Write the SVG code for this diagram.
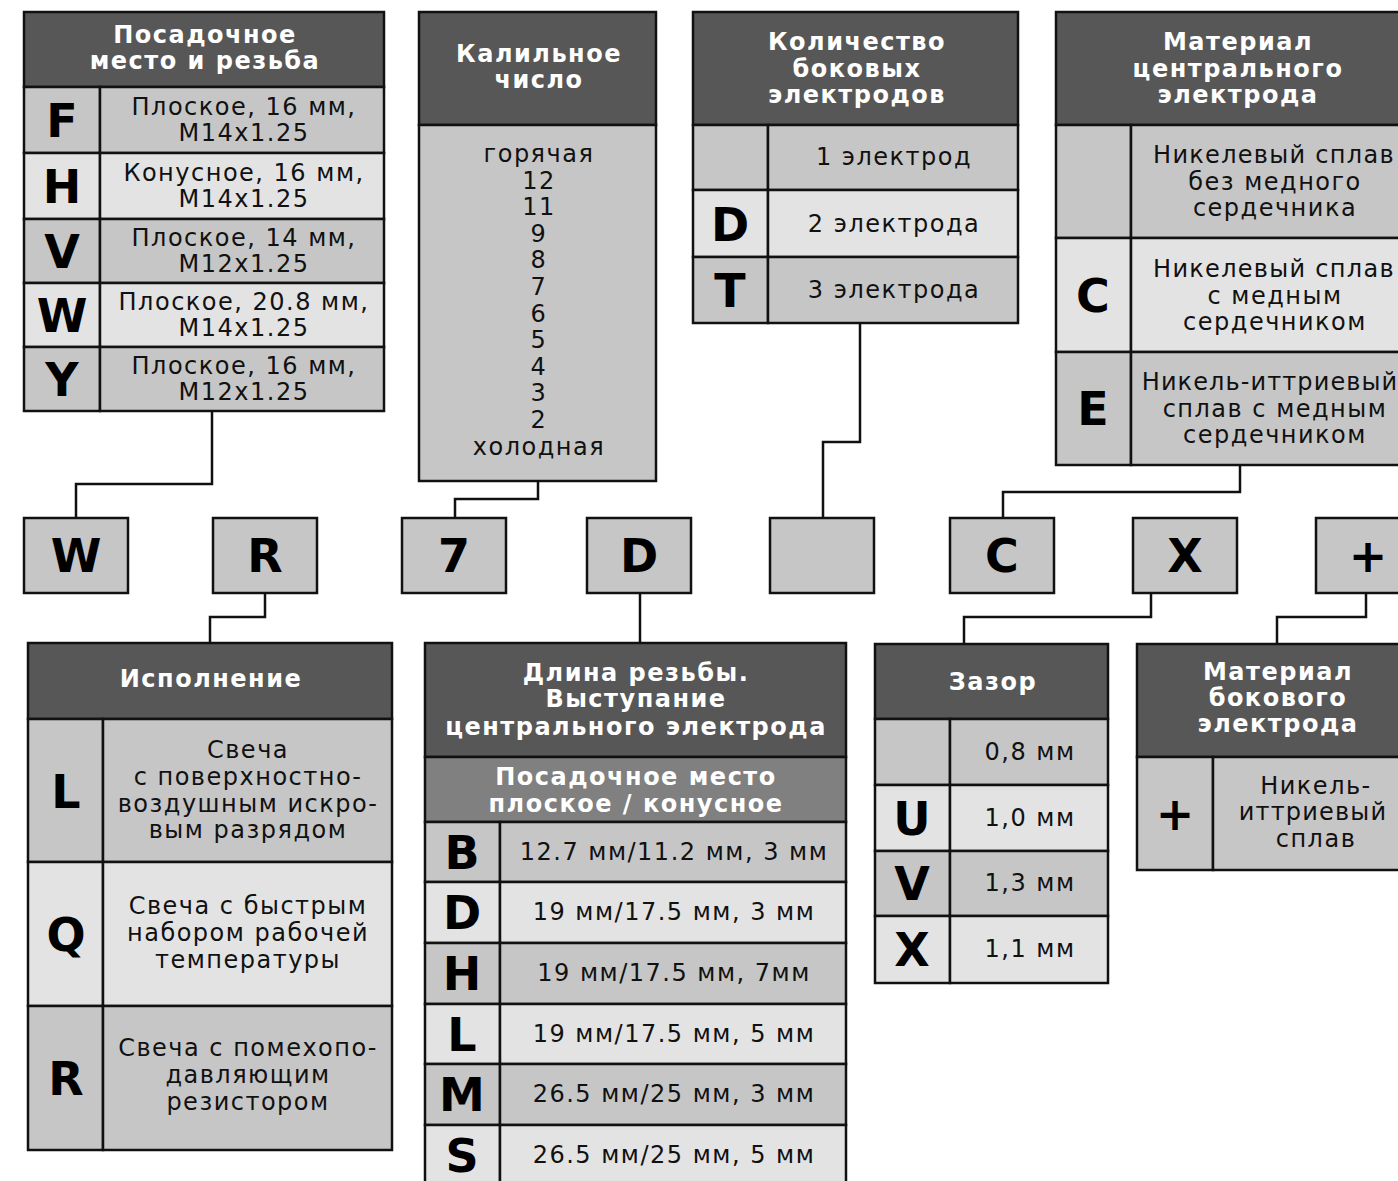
<svg xmlns="http://www.w3.org/2000/svg" width="1398" height="1181" viewBox="0 0 1398 1181">
<style>
rect{stroke:#111;stroke-width:2.5}
.h{fill:#575757}.s{fill:#808080}.d{fill:#c6c6c6}.l{fill:#e3e3e3}
text{font-family:"DejaVu Sans",Verdana,sans-serif;text-anchor:middle}
.ht{font-size:24px;font-weight:bold;fill:#fff;letter-spacing:1.5px}
.bt{font-size:24px;fill:#111;letter-spacing:1.5px}
.lt{font-size:46px;font-weight:bold;fill:#000}
#connectors path{fill:none;stroke:#111;stroke-width:2.5}
</style>
<rect width="1398" height="1181" fill="#fff" style="stroke:none"/>
<g id="connectors">
<path d="M212,411 V484 H76 V518"/>
<path d="M538,481 V499 H455 V518"/>
<path d="M860,323 V442 H823 V518"/>
<path d="M1240,465 V492 H1003 V518"/>
<path d="M265,593 V617 H210 V643"/>
<path d="M640,593 V643"/>
<path d="M1151,593 V617 H964 V644"/>
<path d="M1366,593 V617 H1277 V644"/>
</g>
<g id="t-thread">
<rect class="h" x="24" y="12" width="360" height="75"/>
<text class="ht" x="205" y="43">Посадочное</text>
<text class="ht" x="205" y="69">место и резьба</text>
<rect class="d" x="24" y="87" width="76" height="66"/><rect class="d" x="100" y="87" width="284" height="66"/>
<rect class="l" x="24" y="153" width="76" height="66"/><rect class="l" x="100" y="153" width="284" height="66"/>
<rect class="d" x="24" y="219" width="76" height="64"/><rect class="d" x="100" y="219" width="284" height="64"/>
<rect class="l" x="24" y="283" width="76" height="64"/><rect class="l" x="100" y="283" width="284" height="64"/>
<rect class="d" x="24" y="347" width="76" height="64"/><rect class="d" x="100" y="347" width="284" height="64"/>
<text class="lt" x="62" y="137">F</text>
<text class="lt" x="62" y="203">H</text>
<text class="lt" x="62" y="268">V</text>
<text class="lt" x="62" y="332">W</text>
<text class="lt" x="62" y="396">Y</text>
<text class="bt" x="244" y="115">Плоское, 16 мм,</text><text class="bt" x="244" y="141">M14x1.25</text>
<text class="bt" x="244" y="181">Конусное, 16 мм,</text><text class="bt" x="244" y="207">M14x1.25</text>
<text class="bt" x="244" y="246">Плоское, 14 мм,</text><text class="bt" x="244" y="272">M12x1.25</text>
<text class="bt" x="244" y="310">Плоское, 20.8 мм,</text><text class="bt" x="244" y="336">M14x1.25</text>
<text class="bt" x="244" y="374">Плоское, 16 мм,</text><text class="bt" x="244" y="400">M12x1.25</text>
</g>
<g id="t-heat">
<rect class="h" x="419" y="12" width="237" height="113"/>
<text class="ht" x="539" y="62">Калильное</text>
<text class="ht" x="539" y="88">число</text>
<rect class="d" x="419" y="125" width="237" height="356"/>
<text class="bt" x="539" y="162">горячая</text>
<text class="bt" x="539" y="188.6">12</text>
<text class="bt" x="539" y="215.2">11</text>
<text class="bt" x="539" y="241.8">9</text>
<text class="bt" x="539" y="268.4">8</text>
<text class="bt" x="539" y="295">7</text>
<text class="bt" x="539" y="321.6">6</text>
<text class="bt" x="539" y="348.2">5</text>
<text class="bt" x="539" y="374.8">4</text>
<text class="bt" x="539" y="401.4">3</text>
<text class="bt" x="539" y="428">2</text>
<text class="bt" x="539" y="454.6">холодная</text>
</g>
<g id="t-electrodes">
<rect class="h" x="693" y="12" width="325" height="113"/>
<text class="ht" x="857" y="50">Количество</text>
<text class="ht" x="857" y="77">боковых</text>
<text class="ht" x="857" y="103">электродов</text>
<rect class="d" x="693" y="125" width="75" height="65"/><rect class="d" x="768" y="125" width="250" height="65"/>
<rect class="l" x="693" y="190" width="75" height="67"/><rect class="l" x="768" y="190" width="250" height="67"/>
<rect class="d" x="693" y="257" width="75" height="66"/><rect class="d" x="768" y="257" width="250" height="66"/>
<text class="lt" x="730" y="241">D</text>
<text class="lt" x="730" y="307">T</text>
<text class="bt" x="894" y="165">1 электрод</text>
<text class="bt" x="894" y="232">2 электрода</text>
<text class="bt" x="894" y="298">3 электрода</text>
</g>
<g id="t-center">
<rect class="h" x="1056" y="12" width="362" height="113"/>
<text class="ht" x="1238" y="50">Материал</text>
<text class="ht" x="1238" y="77">центрального</text>
<text class="ht" x="1238" y="103">электрода</text>
<rect class="d" x="1056" y="125" width="75" height="113"/><rect class="d" x="1131" y="125" width="287" height="113"/>
<rect class="l" x="1056" y="238" width="75" height="114"/><rect class="l" x="1131" y="238" width="287" height="114"/>
<rect class="d" x="1056" y="352" width="75" height="113"/><rect class="d" x="1131" y="352" width="287" height="113"/>
<text class="lt" x="1093" y="312">C</text>
<text class="lt" x="1093" y="425">E</text>
<text class="bt" x="1274" y="163" style="letter-spacing:1.3px">Никелевый сплав</text><text class="bt" x="1275" y="190">без медного</text><text class="bt" x="1275" y="216">сердечника</text>
<text class="bt" x="1274" y="277" style="letter-spacing:1.3px">Никелевый сплав</text><text class="bt" x="1275" y="304">с медным</text><text class="bt" x="1275" y="330">сердечником</text>
<text class="bt" x="1270" y="390" style="letter-spacing:1.1px">Никель-иттриевый</text><text class="bt" x="1275" y="417">сплав с медным</text><text class="bt" x="1275" y="443">сердечником</text>
</g>
<g id="code">
<g id="b-W"><rect class="d" x="24" y="518" width="104" height="75"/><text class="lt" x="76" y="572">W</text></g>
<g id="b-R"><rect class="d" x="213" y="518" width="104" height="75"/><text class="lt" x="265" y="572">R</text></g>
<g id="b-7"><rect class="d" x="402" y="518" width="104" height="75"/><text class="lt" x="454" y="572">7</text></g>
<g id="b-D"><rect class="d" x="587" y="518" width="104" height="75"/><text class="lt" x="639" y="572">D</text></g>
<g id="b-empty"><rect class="d" x="770" y="518" width="104" height="75"/></g>
<g id="b-C"><rect class="d" x="950" y="518" width="104" height="75"/><text class="lt" x="1002" y="572">C</text></g>
<g id="b-X"><rect class="d" x="1133" y="518" width="104" height="75"/><text class="lt" x="1185" y="572">X</text></g>
<g id="b-plus"><rect class="d" x="1316" y="518" width="104" height="75"/><text class="lt" x="1368" y="572">+</text></g>
</g>
<g id="t-type">
<rect class="h" x="28" y="643" width="364" height="76"/>
<text class="ht" x="211" y="687">Исполнение</text>
<rect class="d" x="28" y="719" width="75" height="143"/><rect class="d" x="103" y="719" width="289" height="143"/>
<rect class="l" x="28" y="862" width="75" height="144"/><rect class="l" x="103" y="862" width="289" height="144"/>
<rect class="d" x="28" y="1006" width="75" height="144"/><rect class="d" x="103" y="1006" width="289" height="144"/>
<text class="lt" x="66" y="808">L</text>
<text class="lt" x="66" y="951">Q</text>
<text class="lt" x="66" y="1095">R</text>
<text class="bt" x="248" y="758">Свеча</text><text class="bt" x="248" y="785">с поверхностно-</text><text class="bt" x="248" y="812">воздушным искро-</text><text class="bt" x="248" y="838">вым разрядом</text>
<text class="bt" x="248" y="914">Свеча с быстрым</text><text class="bt" x="248" y="941">набором рабочей</text><text class="bt" x="248" y="968">температуры</text>
<text class="bt" x="248" y="1056">Свеча с помехопо-</text><text class="bt" x="248" y="1083">давляющим</text><text class="bt" x="248" y="1110">резистором</text>
</g>
<g id="t-length">
<rect class="h" x="425" y="643" width="421" height="114"/>
<text class="ht" x="636" y="681">Длина резьбы.</text>
<text class="ht" x="636" y="707">Выступание</text>
<text class="ht" x="636" y="735">центрального электрода</text>
<rect class="s" x="425" y="757" width="421" height="65"/>
<text class="ht" x="636" y="785">Посадочное место</text>
<text class="ht" x="636" y="812">плоское / конусное</text>
<rect class="d" x="425" y="822" width="75" height="60"/><rect class="d" x="500" y="822" width="346" height="60"/>
<rect class="l" x="425" y="882" width="75" height="61"/><rect class="l" x="500" y="882" width="346" height="61"/>
<rect class="d" x="425" y="943" width="75" height="61"/><rect class="d" x="500" y="943" width="346" height="61"/>
<rect class="l" x="425" y="1004" width="75" height="60"/><rect class="l" x="500" y="1004" width="346" height="60"/>
<rect class="d" x="425" y="1064" width="75" height="61"/><rect class="d" x="500" y="1064" width="346" height="61"/>
<rect class="l" x="425" y="1125" width="75" height="61"/><rect class="l" x="500" y="1125" width="346" height="61"/>
<text class="lt" x="462" y="869">B</text>
<text class="lt" x="462" y="929">D</text>
<text class="lt" x="462" y="990">H</text>
<text class="lt" x="462" y="1051">L</text>
<text class="lt" x="462" y="1111">M</text>
<text class="lt" x="462" y="1172">S</text>
<text class="bt" x="674" y="860">12.7 мм/11.2 мм, 3 мм</text>
<text class="bt" x="674" y="920">19 мм/17.5 мм, 3 мм</text>
<text class="bt" x="674" y="981">19 мм/17.5 мм, 7мм</text>
<text class="bt" x="674" y="1042">19 мм/17.5 мм, 5 мм</text>
<text class="bt" x="674" y="1102">26.5 мм/25 мм, 3 мм</text>
<text class="bt" x="674" y="1163">26.5 мм/25 мм, 5 мм</text>
</g>
<g id="t-gap">
<rect class="h" x="875" y="644" width="233" height="75"/>
<text class="ht" x="993" y="690">Зазор</text>
<rect class="d" x="875" y="719" width="75" height="66"/><rect class="d" x="950" y="719" width="158" height="66"/>
<rect class="l" x="875" y="785" width="75" height="66"/><rect class="l" x="950" y="785" width="158" height="66"/>
<rect class="d" x="875" y="851" width="75" height="65"/><rect class="d" x="950" y="851" width="158" height="65"/>
<rect class="l" x="875" y="916" width="75" height="67"/><rect class="l" x="950" y="916" width="158" height="67"/>
<text class="lt" x="912" y="835">U</text>
<text class="lt" x="912" y="900">V</text>
<text class="lt" x="912" y="966">X</text>
<text class="bt" x="1030" y="760">0,8 мм</text>
<text class="bt" x="1030" y="826">1,0 мм</text>
<text class="bt" x="1030" y="891">1,3 мм</text>
<text class="bt" x="1030" y="957">1,1 мм</text>
</g>
<g id="t-side">
<rect class="h" x="1137" y="644" width="280" height="113"/>
<text class="ht" x="1278" y="680">Материал</text>
<text class="ht" x="1278" y="706">бокового</text>
<text class="ht" x="1278" y="732">электрода</text>
<rect class="d" x="1137" y="757" width="76" height="113"/><rect class="d" x="1213" y="757" width="204" height="113"/>
<text class="lt" x="1175" y="830">+</text>
<text class="bt" x="1316" y="794">Никель-</text><text class="bt" x="1313" y="820" style="letter-spacing:1.2px">иттриевый</text><text class="bt" x="1316" y="847">сплав</text>
</g>
</svg>
